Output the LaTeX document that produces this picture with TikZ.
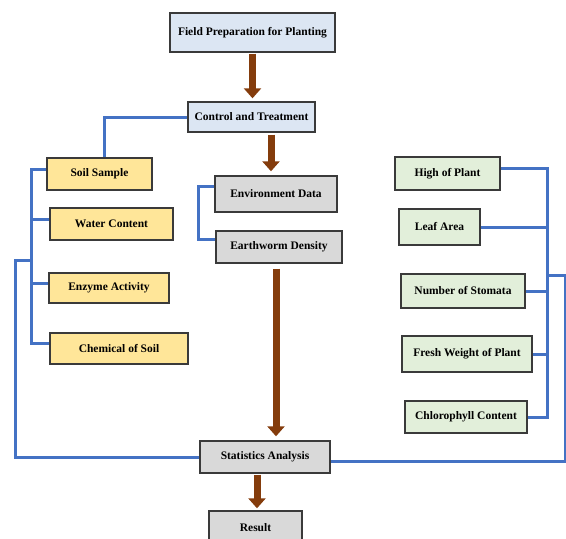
\documentclass[tikz,border=0pt]{standalone}
\usepackage{fontspec}
\setmainfont{Liberation Serif}
\usetikzlibrary{arrows.meta}
\definecolor{myblue}{RGB}{68,114,196}
\definecolor{mybrown}{RGB}{132,60,12}
\definecolor{myframe}{RGB}{58,58,58}
\definecolor{fillblue}{RGB}{220,230,243}
\definecolor{fillgold}{RGB}{255,230,153}
\definecolor{fillgray}{RGB}{217,217,217}
\definecolor{fillgreen}{RGB}{226,239,218}

\tikzset{
    box/.style={draw=myframe, line width=1.4pt, align=center, inner sep=2pt,
        font=\bfseries\fontsize{11.5}{13}\selectfont},
    topbox/.style={box, fill=fillblue},
    soilbox/.style={box, fill=fillgold},
    graybox/.style={box, fill=fillgray},
    plantbox/.style={box, fill=fillgreen},
    bigarrow/.style={draw=mybrown, line width=7pt,
        -{Triangle[width=17pt, length=10pt, fill=mybrown]}},
    blueline/.style={draw=myblue, line width=3pt}
}

\begin{document}
\begin{tikzpicture}[x=1pt, y=-1pt]
    \useasboundingbox (0,0) rectangle (566,539);
    % Main column
    \node[topbox, minimum width=165pt, minimum height=39pt] (field) at (252.5, 32.5) {Field Preparation for Planting};
    \node[topbox, minimum width=127pt, minimum height=30pt] (ctrl) at (251.5, 117) {Control and Treatment};
    \node[graybox, minimum width=122pt, minimum height=36pt] (envdata) at (276, 194) {Environment Data};
    \node[graybox, minimum width=126pt, minimum height=32pt] (earth) at (279, 247) {Earthworm Density};
    \node[graybox, minimum width=130pt, minimum height=32pt] (stat) at (265, 457) {Statistics Analysis};
    \node[graybox, minimum width=93pt, minimum height=34pt] (result) at (255.5, 528) {Result};
    % Soil side
    \node[soilbox, minimum width=105pt, minimum height=32pt] (soil) at (99.5, 174) {Soil Sample};
    \node[soilbox, minimum width=123pt, minimum height=32pt] (water) at (111.5, 224) {Water Content};
    \node[soilbox, minimum width=120pt, minimum height=30pt] (enzyme) at (109, 288) {Enzyme Activity};
    \node[soilbox, minimum width=138pt, minimum height=31pt] (chem) at (119, 348.5) {Chemical of Soil};
    % Plant side
    \node[plantbox, minimum width=105pt, minimum height=33pt] (high) at (447.5, 173.5) {High of Plant};
    \node[plantbox, minimum width=81pt, minimum height=36pt] (leaf) at (439.5, 227) {Leaf Area};
    \node[plantbox, minimum width=124pt, minimum height=34pt] (stomata) at (463, 291) {Number of Stomata};
    \node[plantbox, minimum width=130pt, minimum height=36pt] (fresh) at (467, 354) {Fresh Weight of Plant};
    \node[plantbox, minimum width=122pt, minimum height=32pt] (chloro) at (466, 417) {Chlorophyll Content};
    % Bus lines
    \coordinate (lbus) at (31, 0);
    \coordinate (lout) at (15, 260);
    \coordinate (ebus) at (198, 0);
    \coordinate (rbus) at (547, 0);
    \coordinate (rout) at (565, 275);
    % Brown arrows
    \draw[bigarrow, shorten <=1pt, shorten >=3pt] (field.south) -- (field.south |- ctrl.north);
    \draw[bigarrow, shorten <=2pt, shorten >=4pt] ([xshift=-5pt]envdata.north |- ctrl.south) -- ([xshift=-5pt]envdata.north);
    \draw[bigarrow, shorten <=5pt, shorten >=4pt] ([xshift=-3pt]earth.south) -- ([xshift=-3pt]earth.south |- stat.north);
    \draw[bigarrow, shorten <=1pt, shorten >=2pt] ([xshift=-8pt]stat.south) -- ([xshift=-8pt]stat.south |- result.north);
    % Blue connectors, soil side
    \draw[blueline] (ctrl.west) -| ([xshift=5pt]soil.north);
    \draw[blueline] ([yshift=5pt]soil.west) -| ([yshift=5pt]chem.west -| lbus) -- ([yshift=5pt]chem.west);
    \draw[blueline] ([yshift=5pt]water.west) -- ([yshift=5pt]water.west -| lbus);
    \draw[blueline] ([yshift=5pt]enzyme.west) -- ([yshift=5pt]enzyme.west -| lbus);
    \draw[blueline] (lbus |- lout) -- (lout) |- (stat.west);
    % Blue connectors, data boxes
    \draw[blueline] ([yshift=8pt]envdata.west) -| ([yshift=8pt]earth.west -| ebus) -- ([yshift=8pt]earth.west);
    % Blue connectors, plant side
    \draw[blueline] ([yshift=5pt]high.east) -| (chloro.east -| rbus) -- (chloro.east);
    \draw[blueline] (leaf.east) -- (leaf.east -| rbus);
    \draw[blueline] (stomata.east) -- (stomata.east -| rbus);
    \draw[blueline] (fresh.east) -- (fresh.east -| rbus);
    \draw[blueline] (rbus |- rout) -- (rout) |- ([yshift=-4pt]stat.east);
\end{tikzpicture}
\end{document}
